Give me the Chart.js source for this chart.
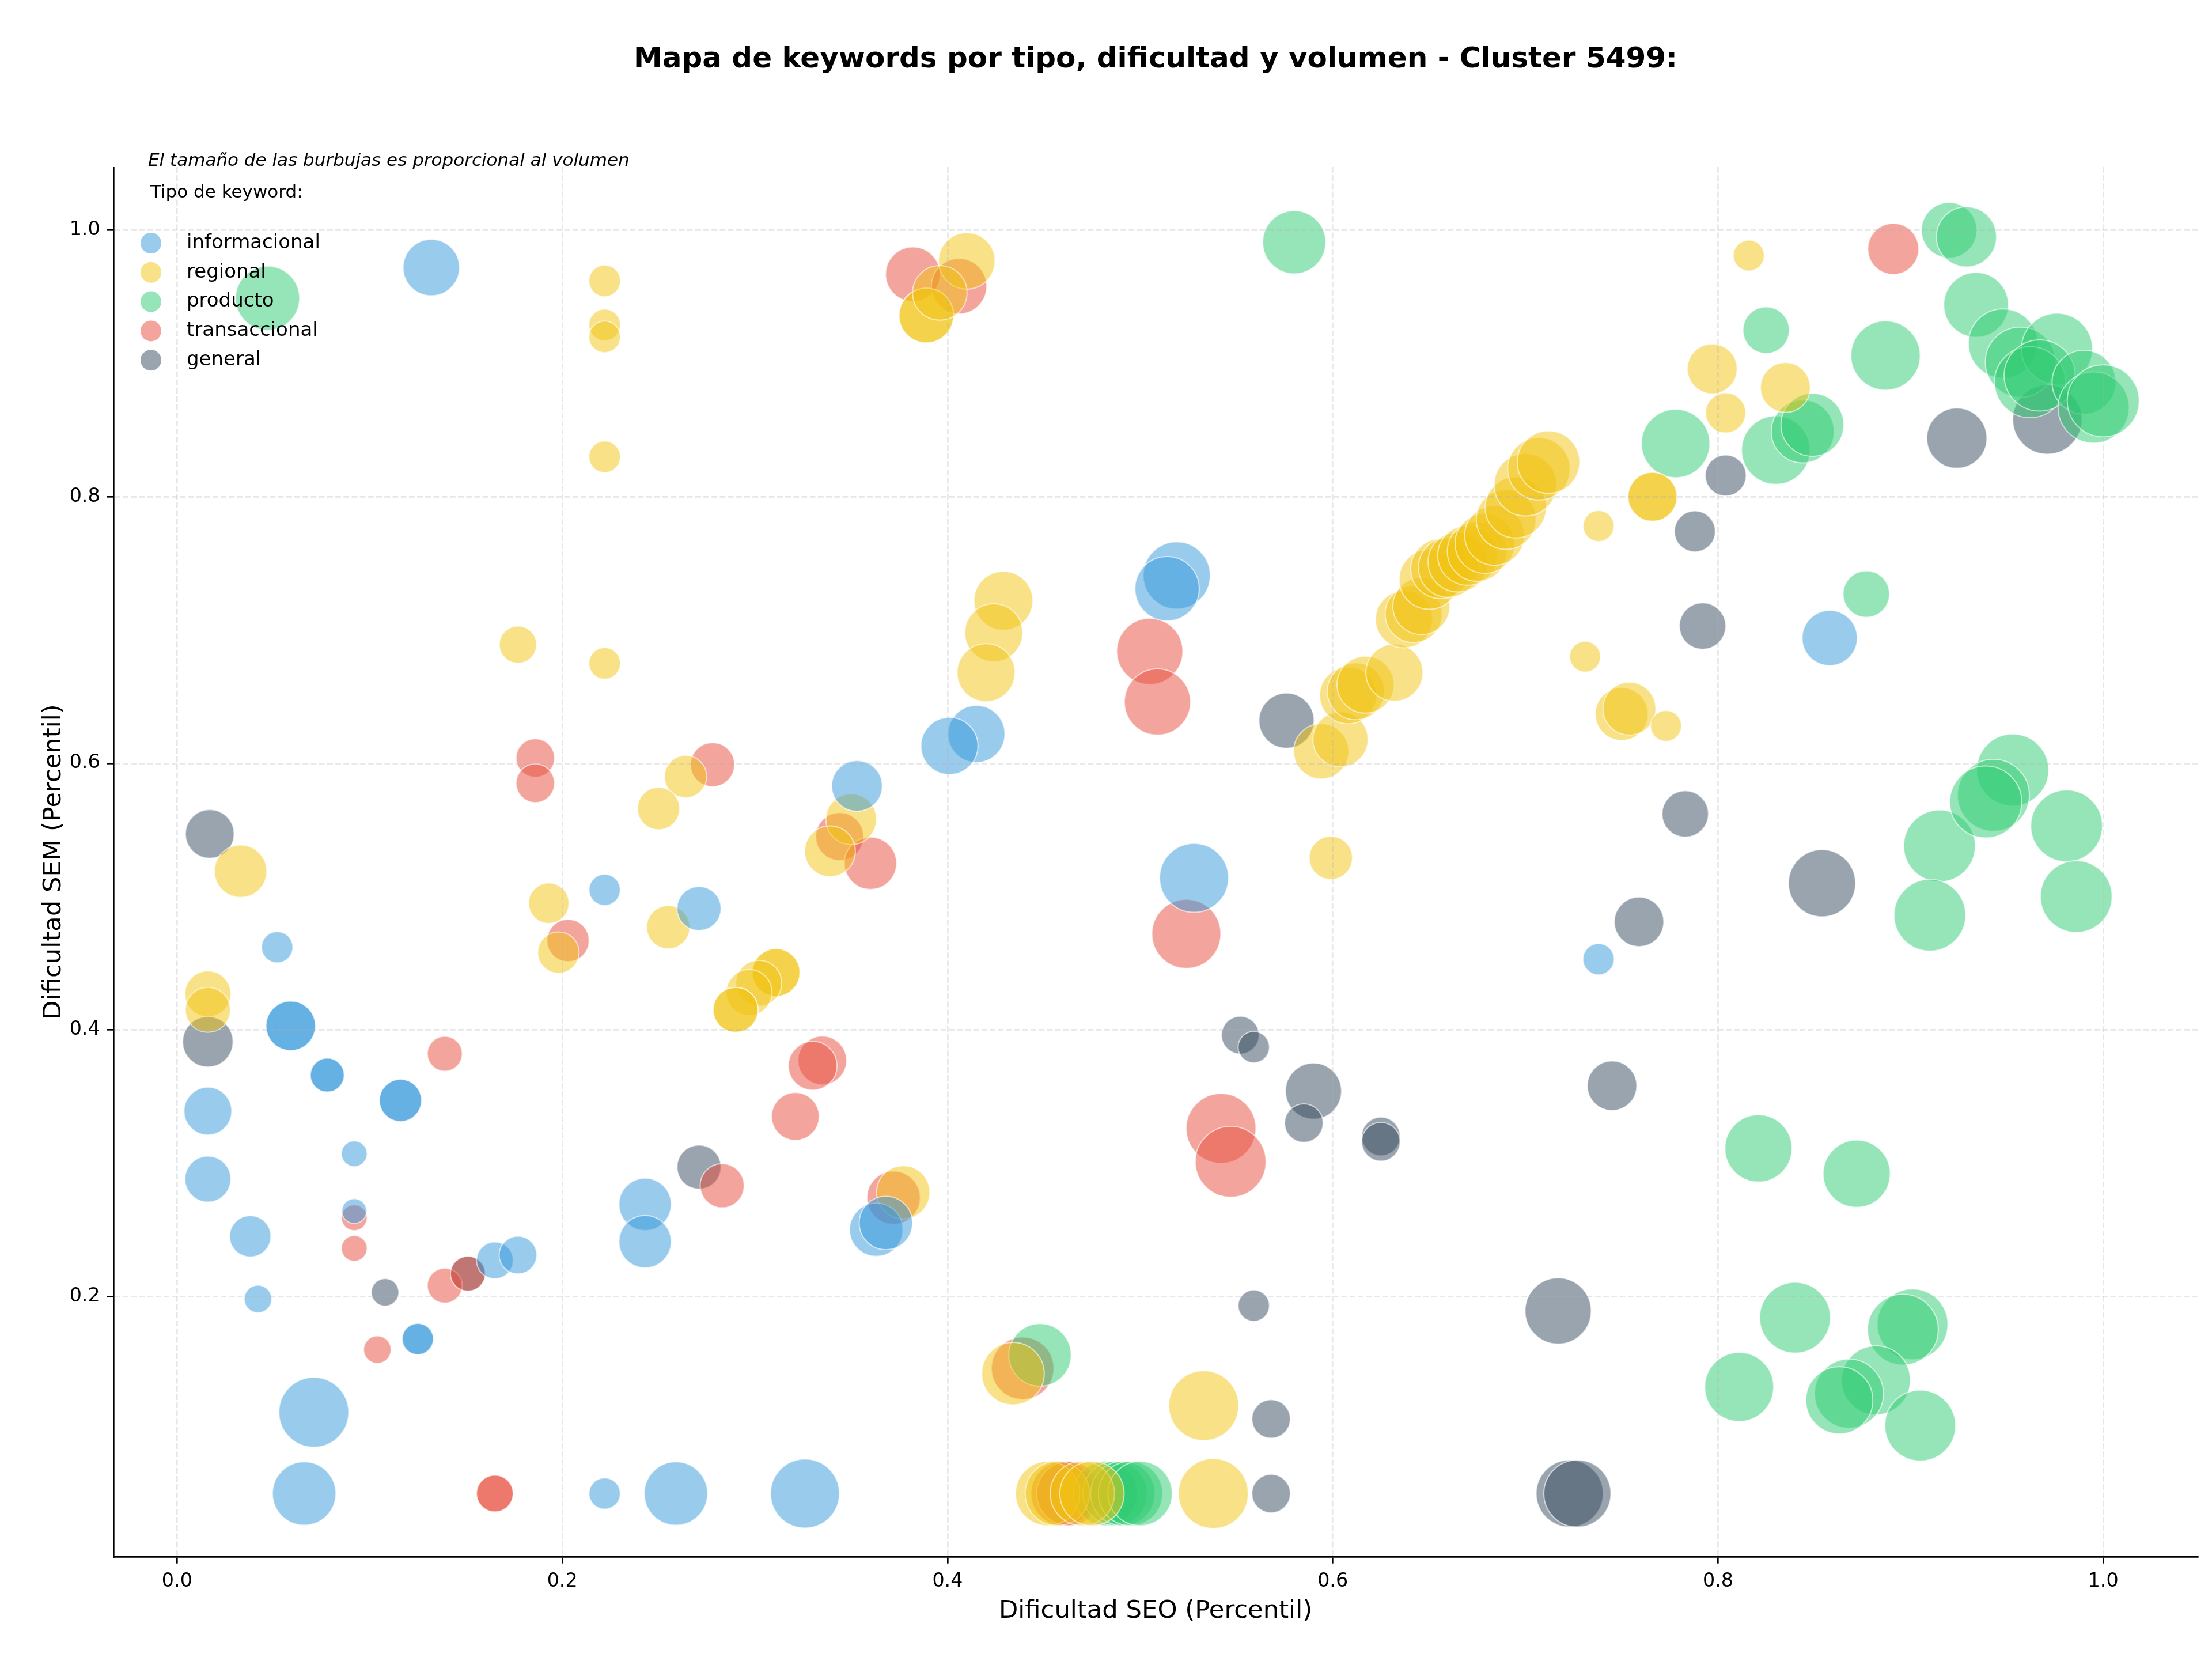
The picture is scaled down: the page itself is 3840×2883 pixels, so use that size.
<!DOCTYPE html>
<html>
<head>
<meta charset="utf-8">
<script src="https://cdn.jsdelivr.net/npm/chart.js@4.4.0/dist/chart.umd.min.js"></script>
<style>
  html, body { margin: 0; padding: 0; background: #fff; }
  #wrap { width: 3840px; height: 2883px; }
</style>
</head>
<body>
<div id="wrap"><canvas id="mapaKeywords" width="3840" height="2883"></canvas></div>
<script>
// Mapa de keywords - Cluster 5499
// x = dificultad SEO (percentil), y = dificultad SEM (percentil), vol = volumen relativo

var tipos = ['informacional', 'regional', 'producto', 'transaccional', 'general'];
var colores = ['52,152,219', '241,196,15', '46,204,113', '231,76,60', '52,73,94'];
var ticksX = [0.0, 0.2, 0.4, 0.6, 0.8, 1.0];
var ticksY = [0.2, 0.4, 0.6, 0.8, 1.0];

var infoSeo = [0.132, 0.052, 0.059, 0.059, 0.078, 0.078, 0.116, 0.116, 0.016, 0.092, 0.016, 0.092, 0.038,
  0.042, 0.165, 0.177, 0.125, 0.125, 0.071, 0.066, 0.222, 0.259, 0.326, 0.222, 0.271, 0.243, 0.243, 0.528,
  0.363, 0.368, 0.519, 0.514, 0.415, 0.401, 0.353, 0.738, 0.858];
var infoSem = [0.972, 0.462, 0.403, 0.403, 0.366, 0.366, 0.347, 0.347, 0.339, 0.307, 0.288, 0.264, 0.245,
  0.198, 0.227, 0.231, 0.168, 0.168, 0.113, 0.052, 0.052, 0.052, 0.052, 0.505, 0.491, 0.269, 0.241, 0.514,
  0.250, 0.255, 0.741, 0.731, 0.622, 0.613, 0.583, 0.453, 0.694];
var infoVol = [383, 118, 296, 296, 139, 139, 215, 215, 275, 80, 254, 74, 206,
  91, 163, 171, 118, 118, 587, 484, 118, 484, 572, 118, 234, 330, 330, 572,
  342, 342, 542, 498, 391, 391, 310, 118, 366];

var regSeo = [0.222, 0.222, 0.222, 0.222, 0.177, 0.222, 0.033, 0.016, 0.016, 0.193, 0.198, 0.255, 0.311,
  0.311, 0.302, 0.297, 0.290, 0.290, 0.264, 0.250, 0.410, 0.389, 0.389, 0.396, 0.429, 0.424, 0.420, 0.350,
  0.339, 0.599, 0.377, 0.434, 0.533, 0.538, 0.452, 0.457, 0.470, 0.475, 0.594, 0.604, 0.608, 0.612, 0.617,
  0.632, 0.637, 0.642, 0.646, 0.650, 0.656, 0.660, 0.665, 0.670, 0.675, 0.679, 0.684, 0.690, 0.695, 0.700,
  0.707, 0.712, 0.816, 0.797, 0.835, 0.804, 0.766, 0.766, 0.738, 0.731, 0.750, 0.754, 0.773];
var regSem = [0.962, 0.929, 0.920, 0.830, 0.689, 0.675, 0.519, 0.427, 0.415, 0.495, 0.458, 0.477, 0.443,
  0.443, 0.435, 0.428, 0.415, 0.415, 0.590, 0.566, 0.977, 0.936, 0.936, 0.953, 0.722, 0.698, 0.668, 0.558,
  0.534, 0.529, 0.278, 0.142, 0.118, 0.052, 0.052, 0.052, 0.052, 0.052, 0.609, 0.618, 0.651, 0.654, 0.659,
  0.668, 0.708, 0.712, 0.718, 0.738, 0.746, 0.747, 0.751, 0.756, 0.759, 0.765, 0.771, 0.783, 0.792, 0.809,
  0.821, 0.826, 0.981, 0.896, 0.882, 0.863, 0.800, 0.800, 0.778, 0.680, 0.637, 0.641, 0.628];
var regVol = [120, 120, 120, 120, 167, 120, 330, 254, 244, 197, 206, 225, 275,
  275, 254, 254, 244, 244, 215, 215, 383, 358, 358, 358, 416, 403, 403, 310,
  310, 225, 342, 470, 587, 587, 498, 498, 498, 498, 366, 366, 391, 391, 391,
  391, 391, 391, 391, 430, 430, 430, 430, 430, 430, 430, 430, 430, 450, 470,
  470, 470, 115, 300, 300, 194, 290, 290, 115, 115, 336, 336, 115];

var prodSeo = [0.047, 0.580, 0.448, 0.482, 0.487, 0.491, 0.495, 0.500, 0.915, 0.981, 0.910, 0.986, 0.821,
  0.872, 0.840, 0.901, 0.896, 0.811, 0.882, 0.868, 0.863, 0.905, 0.920, 0.929, 0.825, 0.887, 0.934, 0.948,
  0.957, 0.976, 0.962, 0.967, 0.990, 0.995, 1.000, 0.778, 0.830, 0.844, 0.849, 0.877, 0.953, 0.943, 0.939];
var prodSem = [0.949, 0.991, 0.156, 0.052, 0.052, 0.052, 0.052, 0.052, 0.538, 0.553, 0.486, 0.500, 0.311,
  0.292, 0.184, 0.179, 0.175, 0.132, 0.137, 0.127, 0.122, 0.103, 1.000, 0.995, 0.925, 0.906, 0.944, 0.915,
  0.901, 0.911, 0.886, 0.891, 0.886, 0.867, 0.872, 0.840, 0.835, 0.849, 0.854, 0.727, 0.595, 0.576, 0.571];
var prodVol = [494, 479, 470, 498, 498, 498, 498, 498, 619, 619, 619, 619, 542,
  542, 603, 603, 603, 572, 572, 572, 542, 603, 370, 435, 260, 578, 504, 578,
  593, 608, 608, 608, 490, 608, 624, 563, 563, 476, 476, 260, 624, 624, 624];

var tranSeo = [0.382, 0.406, 0.139, 0.092, 0.092, 0.139, 0.151, 0.104, 0.165, 0.165, 0.203, 0.283, 0.335,
  0.330, 0.321, 0.186, 0.186, 0.278, 0.344, 0.360, 0.524, 0.542, 0.547, 0.372, 0.439, 0.460, 0.463, 0.505,
  0.509, 0.891];
var tranSem = [0.967, 0.958, 0.382, 0.259, 0.236, 0.208, 0.217, 0.160, 0.052, 0.052, 0.467, 0.283, 0.377,
  0.373, 0.335, 0.604, 0.585, 0.599, 0.545, 0.525, 0.472, 0.326, 0.301, 0.274, 0.146, 0.052, 0.052, 0.684,
  0.646, 0.986];
var tranVol = [358, 369, 147, 80, 80, 147, 147, 91, 163, 163, 215, 234, 286,
  286, 275, 179, 179, 234, 277, 330, 572, 587, 603, 342, 470, 498, 498, 527,
  527, 314];

var genSeo = [0.017, 0.016, 0.108, 0.151, 0.271, 0.552, 0.559, 0.590, 0.585, 0.625, 0.625, 0.559, 0.568,
  0.568, 0.576, 0.854, 0.759, 0.745, 0.717, 0.723, 0.727, 0.971, 0.924, 0.804, 0.788, 0.792, 0.783];
var genSem = [0.547, 0.391, 0.203, 0.217, 0.297, 0.396, 0.387, 0.354, 0.330, 0.320, 0.316, 0.193, 0.108,
  0.052, 0.632, 0.510, 0.481, 0.358, 0.189, 0.052, 0.052, 0.858, 0.844, 0.816, 0.774, 0.703, 0.562];
var genVol = [286, 307, 91, 147, 234, 171, 118, 378, 179, 179, 179, 118, 179,
  179, 366, 542, 296, 296, 527, 542, 542, 578, 435, 202, 202, 260, 260];

var series = [
  [infoSeo, infoSem, infoVol],
  [regSeo, regSem, regVol],
  [prodSeo, prodSem, prodVol],
  [tranSeo, tranSem, tranVol],
  [genSeo, genSem, genVol]
];

var FONT = "'DejaVu Sans', 'Liberation Sans', sans-serif";

function radio(vol) {
  return Math.sqrt(vol) * 2.5;
}

var datasets = series.map(function (s, i) {
  return {
    label: tipos[i],
    data: s[0].map(function (x, j) { return { x: x, y: s[1][j], r: radio(s[2][j]) }; }),
    backgroundColor: 'rgba(' + colores[i] + ',0.5)',
    borderColor: 'rgba(255,255,255,0.6)',
    borderWidth: 2,
    hoverRadius: 0
  };
});

// textos, leyenda y etiquetas de ejes
var textos = {
  id: 'textos',
  afterDraw: function (chart) {
    var ctx = chart.ctx;
    var area = chart.chartArea;
    var cx = (area.left + area.right) / 2;
    ctx.save();
    ctx.fillStyle = '#000';
    ctx.textBaseline = 'middle';

    ctx.textAlign = 'center';
    ctx.font = 'bold 50px ' + FONT;
    ctx.fillText('Mapa de keywords por tipo, dificultad y volumen - Cluster 5499:', cx, 104);

    ctx.font = '43.3px ' + FONT;
    ctx.fillText('Dificultad SEO (Percentil)', cx, 2797);
    ctx.save();
    ctx.translate(94, (area.top + area.bottom) / 2);
    ctx.rotate(-Math.PI / 2);
    ctx.fillText('Dificultad SEM (Percentil)', 0, 0);
    ctx.restore();

    ctx.textAlign = 'left';
    ctx.font = 'italic 31px ' + FONT;
    ctx.fillText('El tamaño de las burbujas es proporcional al volumen', 257, 280);
    ctx.font = '31px ' + FONT;
    ctx.fillText('Tipo de keyword:', 261, 335);

    ctx.font = '34px ' + FONT;
    tipos.forEach(function (t, i) {
      var y = 422 + i * 50.8;
      ctx.beginPath();
      ctx.arc(262, y, 18, 0, Math.PI * 2);
      ctx.fillStyle = 'rgba(' + colores[i] + ',0.5)';
      ctx.fill();
      ctx.fillStyle = '#000';
      ctx.fillText(t, 324, y);
    });
    ctx.restore();
  }
};

function ejeComun(valores, fitProp, fitVal) {
  return {
    type: 'linear',
    grid: {
      display: true,
      color: 'rgba(176,176,176,0.3)',
      lineWidth: 2.67,
      drawTicks: true,
      tickLength: 11.7,
      tickColor: '#000',
      tickWidth: 2.67,
      tickBorderDash: [],
      z: 1
    },
    border: { display: true, color: '#000', width: 2.67, dash: [9.9, 4.3], z: 1 },
    ticks: {
      autoSkip: false,
      maxRotation: 0,
      includeBounds: false,
      padding: 11.7,
      color: '#000',
      font: { family: FONT, size: 33.3 },
      callback: function (v) { return Number(v).toFixed(1); }
    },
    afterBuildTicks: function (scale) {
      scale.ticks = valores.map(function (v) { return { value: v }; });
    },
    afterFit: function (scale) { scale[fitProp] = fitVal; }
  };
}

var ejeX = ejeComun(ticksX, 'height', 181);
ejeX.min = -0.033;
ejeX.max = 1.049;
ejeX.position = 'bottom';
var ejeY = ejeComun(ticksY, 'width', 197);
ejeY.min = 0.0046;
ejeY.max = 1.0474;
ejeY.position = 'left';

var ctx = document.getElementById('mapaKeywords');
var mapaKeywords = new Chart(ctx, {
  type: 'bubble',
  data: { datasets: datasets },
  options: {
    responsive: false,
    devicePixelRatio: 1,
    animation: false,
    events: [],
    layout: { autoPadding: false, padding: { left: 0, top: 290, right: 25, bottom: 0 } },
    plugins: {
      legend: { display: false },
      title: { display: false },
      tooltip: { enabled: false }
    },
    scales: { x: ejeX, y: ejeY }
  },
  plugins: [textos]
});
</script>
</body>
</html>
